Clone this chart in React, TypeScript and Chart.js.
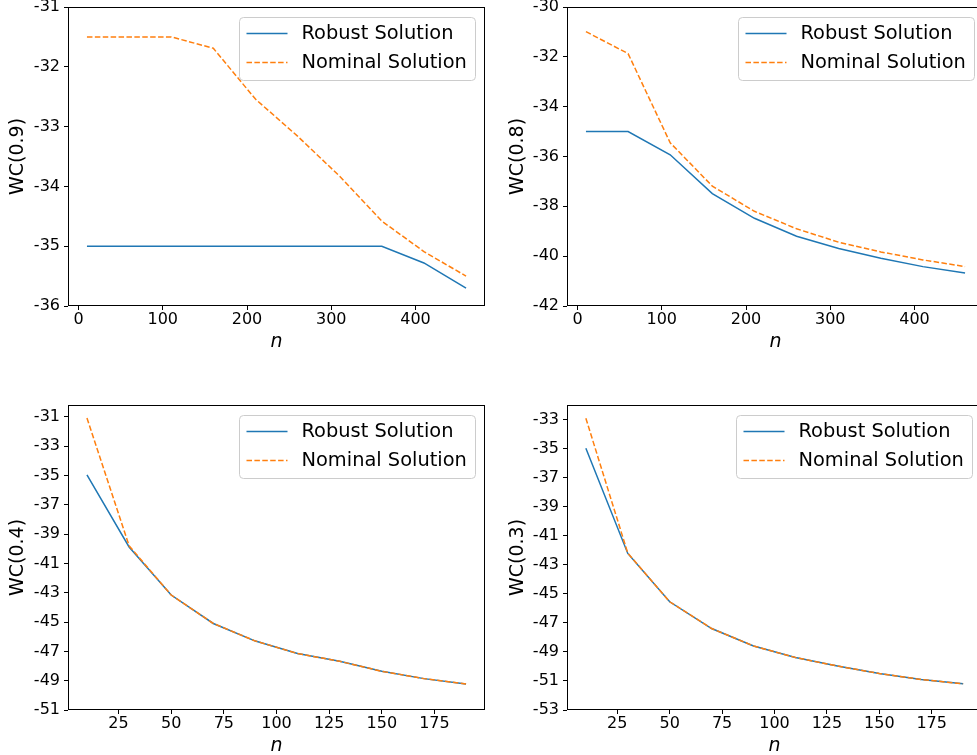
import React, { useEffect, useRef } from "react";
import { Chart, registerables } from "chart.js";

Chart.register(...registerables);
Chart.defaults.font.family = "'DejaVu Sans', sans-serif";
Chart.defaults.color = "#000";

// ---- data ----
const nTop = [10, 60, 110, 160, 210, 260, 310, 360, 410, 460];
const nBottom = [10, 30, 50, 70, 90, 110, 130, 150, 170, 190];

const robust09 = [-35, -35, -35, -35, -35, -35, -35, -35, -35.28, -35.7];
const nominal09 = [-31.5, -31.5, -31.5, -31.69, -32.54, -33.16, -33.83, -34.58, -35.09, -35.5];

const robust08 = [-35.0, -35.0, -35.93, -37.49, -38.48, -39.2, -39.69, -40.08, -40.42, -40.68];
const nominal08 = [-30.99, -31.87, -35.45, -37.19, -38.2, -38.9, -39.44, -39.83, -40.15, -40.42];

const robust04 = [-34.96, -39.88, -43.16, -45.1, -46.3, -47.15, -47.68, -48.36, -48.86, -49.22];
const nominal04 = [-31.09, -39.8, -43.16, -45.1, -46.3, -47.15, -47.68, -48.36, -48.86, -49.22];

const robust03 = [-34.98, -42.22, -45.55, -47.39, -48.59, -49.39, -49.97, -50.49, -50.9, -51.2];
const nominal03 = [-32.91, -42.2, -45.55, -47.39, -48.59, -49.39, -49.97, -50.49, -50.9, -51.2];

const xTicksTop = [0, 100, 200, 300, 400];
const xTicksBottom = [25, 50, 75, 100, 125, 150, 175];
const yTicks09 = [-36, -35, -34, -33, -32, -31];
const yTicks08 = [-42, -40, -38, -36, -34, -32, -30];
const yTicks04 = [-51, -49, -47, -45, -43, -41, -39, -37, -35, -33, -31];
const yTicks03 = [-53, -51, -49, -47, -45, -43, -41, -39, -37, -35, -33];

const seriesLabels = ["Robust Solution", "Nominal Solution"];
const BLUE = "#1f77b4";
const ORANGE = "#ff7f0e";

const frameLegendPlugin = {
  id: "frameLegend",
  afterDatasetsDraw(chart: any) {
    const { ctx, chartArea: a } = chart;
    ctx.save();
    // full frame (spines)
    ctx.strokeStyle = "#000";
    ctx.lineWidth = 1;
    const L = Math.round(a.left) + 0.5;
    const T = Math.round(a.top) + 0.5;
    const R = Math.round(a.right) - 0.5;
    const B = Math.round(a.bottom) - 0.5;
    ctx.strokeRect(L, T, R - L, B - T);

    // legend
    const bw = 236;
    const bh = 63;
    const bx = Math.round(a.right - 10 - bw) + 0.5;
    const by = Math.round(a.top + 10) + 0.5;
    const r = 4;
    ctx.beginPath();
    ctx.moveTo(bx + r, by);
    ctx.lineTo(bx + bw - r, by);
    ctx.arcTo(bx + bw, by, bx + bw, by + r, r);
    ctx.lineTo(bx + bw, by + bh - r);
    ctx.arcTo(bx + bw, by + bh, bx + bw - r, by + bh, r);
    ctx.lineTo(bx + r, by + bh);
    ctx.arcTo(bx, by + bh, bx, by + bh - r, r);
    ctx.lineTo(bx, by + r);
    ctx.arcTo(bx, by, bx + r, by, r);
    ctx.closePath();
    ctx.fillStyle = "rgba(255,255,255,0.8)";
    ctx.fill();
    ctx.strokeStyle = "#cccccc";
    ctx.lineWidth = 1;
    ctx.stroke();

    const rows = [by + 16, by + 45];
    const dsOrder = [1, 0]; // dataset index 1 = robust, 0 = nominal
    ctx.font = "19.4px 'DejaVu Sans', sans-serif";
    ctx.textBaseline = "middle";
    ctx.textAlign = "left";
    dsOrder.forEach((di, i) => {
      const ds: any = chart.data.datasets[di];
      const y = rows[i];
      ctx.beginPath();
      ctx.strokeStyle = ds.borderColor;
      ctx.lineWidth = 1.5;
      ctx.setLineDash(ds.borderDash || []);
      ctx.moveTo(bx + 7, y);
      ctx.lineTo(bx + 48, y);
      ctx.stroke();
      ctx.setLineDash([]);
      ctx.fillStyle = "#000";
      ctx.fillText(ds.label, bx + 62, y);
    });
    ctx.restore();
  },
};

type PanelProps = {
  left: number;
  top: number;
  width: number;
  height: number;
  area: { l: number; r: number; t: number; b: number };
  xs: number[];
  robust: number[];
  nominal: number[];
  xMin: number;
  xMax: number;
  xTicks: number[];
  yMin: number;
  yMax: number;
  yTicks: number[];
  yLabel: string;
  yTitlePad: number;
};

function Panel(p: PanelProps) {
  const ref = useRef<HTMLCanvasElement>(null);
  useEffect(() => {
    if (!ref.current) return;
    const toPts = (ys: number[]) => p.xs.map((x, i) => ({ x, y: ys[i] }));
    const chart = new Chart(ref.current, {
      type: "line",
      data: {
        datasets: [
          {
            label: seriesLabels[1],
            data: toPts(p.nominal),
            borderColor: ORANGE,
            backgroundColor: ORANGE,
            borderWidth: 1.5,
            borderDash: [5.5, 2.4],
            pointRadius: 0,
            tension: 0,
            fill: false,
          },
          {
            label: seriesLabels[0],
            data: toPts(p.robust),
            borderColor: BLUE,
            backgroundColor: BLUE,
            borderWidth: 1.5,
            pointRadius: 0,
            tension: 0,
            fill: false,
          },
        ],
      },
      options: {
        responsive: false,
        animation: false,
        devicePixelRatio: 1,
        layout: {
          padding: { left: 0, top: p.area.t, right: p.width - p.area.r, bottom: 0 },
        },
        plugins: { legend: { display: false }, tooltip: { enabled: false } },
        scales: {
          x: {
            type: "linear",
            min: p.xMin,
            max: p.xMax,
            afterBuildTicks: (s: any) => {
              s.ticks = p.xTicks.map((v) => ({ value: v }));
            },
            afterFit: (s: any) => {
              s.height = p.height - p.area.b;
              s.paddingLeft = 0;
              s.paddingRight = 0;
            },
            ticks: {
              font: { size: 16 },
              color: "#000",
              padding: 0,
              maxRotation: 0,
              autoSkip: false,
            },
            grid: {
              display: true,
              drawOnChartArea: false,
              drawTicks: true,
              tickLength: 4,
              color: "#000",
            },
            border: { display: false },
            title: {
              display: true,
              text: "n",
              font: { size: 19, style: "italic" },
              color: "#000",
              padding: { top: 0, bottom: 7 },
            },
          },
          y: {
            type: "linear",
            min: p.yMin,
            max: p.yMax,
            afterBuildTicks: (s: any) => {
              s.ticks = p.yTicks.map((v) => ({ value: v }));
            },
            afterFit: (s: any) => {
              s.width = p.area.l;
              s.paddingTop = 0;
              s.paddingBottom = 0;
            },
            ticks: {
              font: { size: 16 },
              color: "#000",
              padding: 4,
              autoSkip: false,
            },
            grid: {
              display: true,
              drawOnChartArea: false,
              drawTicks: true,
              tickLength: 4,
              color: "#000",
            },
            border: { display: false },
            title: {
              display: true,
              text: p.yLabel,
              font: { size: 19 },
              color: "#000",
              padding: { top: p.yTitlePad, bottom: 0 },
            },
          },
        },
      },
      plugins: [frameLegendPlugin],
    } as any);
    return () => chart.destroy();
  }, []);
  return (
    <canvas
      ref={ref}
      width={p.width}
      height={p.height}
      style={{ position: "absolute", left: p.left, top: p.top, width: p.width, height: p.height }}
    />
  );
}

export default function App() {
  return (
    <div
      style={{
        position: "fixed",
        left: 0,
        top: 0,
        width: 977,
        height: 755,
        overflow: "hidden",
        background: "#fff",
      }}
    >
      <Panel
        left={0}
        top={-20}
        width={490}
        height={380}
        area={{ l: 68, r: 485, t: 27, b: 326 }}
        xs={nTop}
        robust={robust09}
        nominal={nominal09}
        xMin={-12.5}
        xMax={482.5}
        xTicks={xTicksTop}
        yMin={-36}
        yMax={-31}
        yTicks={yTicks09}
        yLabel="WC(0.9)"
        yTitlePad={7}
      />
      <Panel
        left={490}
        top={-20}
        width={500}
        height={380}
        area={{ l: 77, r: 494, t: 27, b: 326 }}
        xs={nTop}
        robust={robust08}
        nominal={nominal08}
        xMin={-12.5}
        xMax={482.5}
        xTicks={xTicksTop}
        yMin={-42}
        yMax={-30}
        yTicks={yTicks08}
        yLabel="WC(0.8)"
        yTitlePad={17}
      />
      <Panel
        left={0}
        top={378}
        width={490}
        height={386}
        area={{ l: 68, r: 485, t: 27, b: 332 }}
        xs={nBottom}
        robust={robust04}
        nominal={nominal04}
        xMin={1}
        xMax={199}
        xTicks={xTicksBottom}
        yMin={-51}
        yMax={-30.2}
        yTicks={yTicks04}
        yLabel="WC(0.4)"
        yTitlePad={7}
      />
      <Panel
        left={490}
        top={378}
        width={500}
        height={386}
        area={{ l: 77, r: 492, t: 27, b: 332 }}
        xs={nBottom}
        robust={robust03}
        nominal={nominal03}
        xMin={1}
        xMax={199}
        xTicks={xTicksBottom}
        yMin={-53}
        yMax={-32}
        yTicks={yTicks03}
        yLabel="WC(0.3)"
        yTitlePad={17}
      />
    </div>
  );
}
